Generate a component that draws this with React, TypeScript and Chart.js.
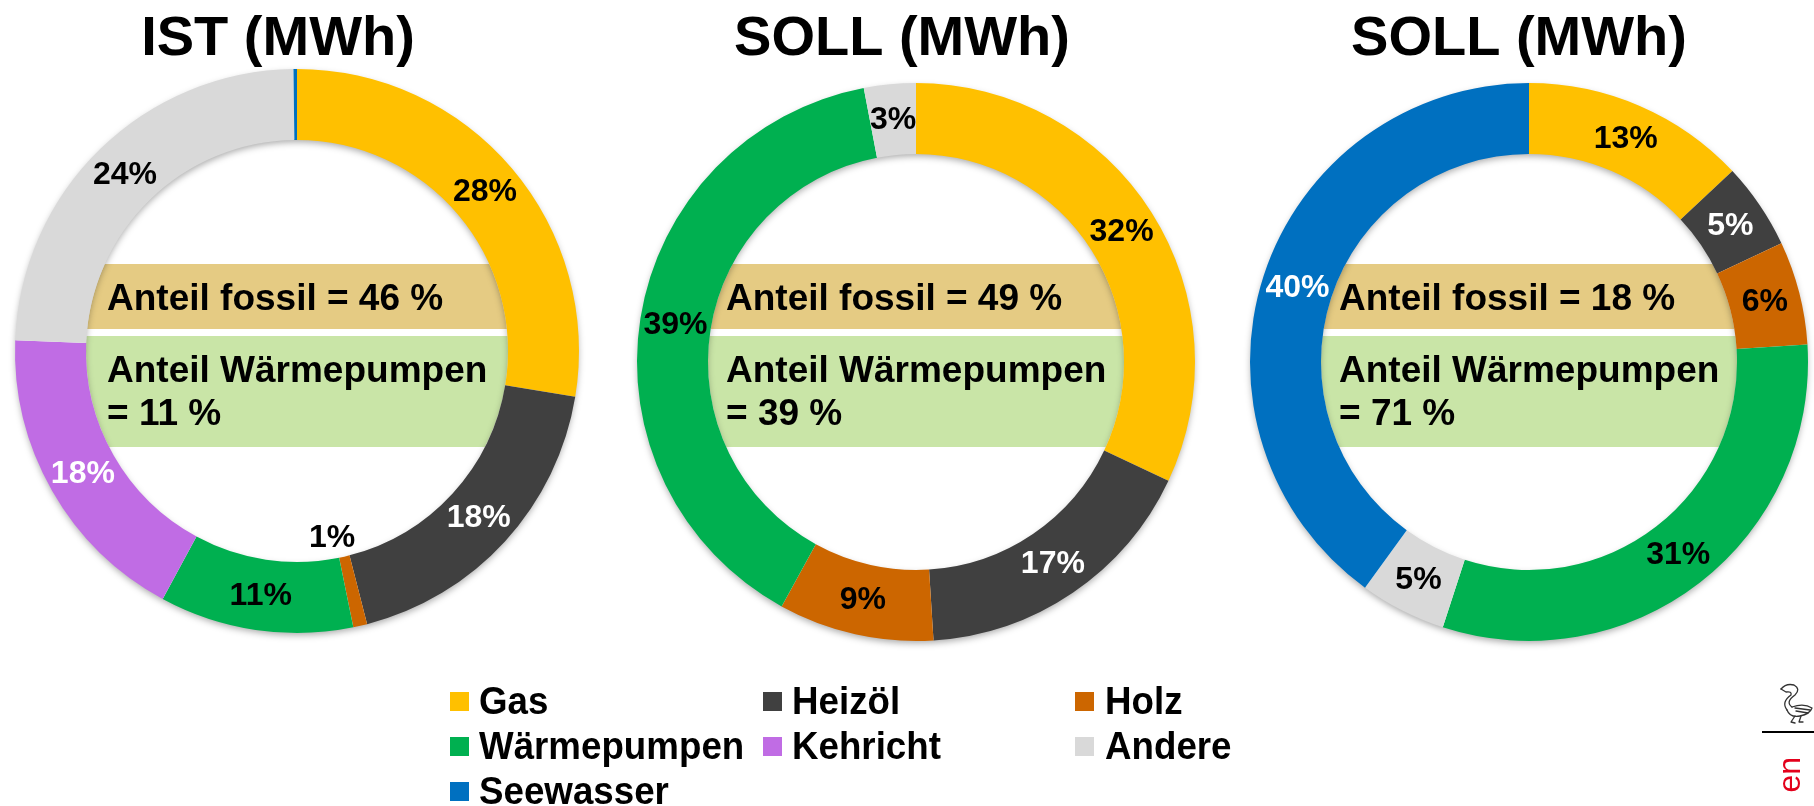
import React, { useEffect, useRef } from 'react';
import { Chart, registerables } from 'chart.js';

Chart.register(...registerables);

// ---------- data ----------
const categories = ['Gas', 'Heizöl', 'Holz', 'Wärmepumpen', 'Kehricht', 'Andere', 'Seewasser'];
const istValues = [27.6, 18.4, 0.8, 11.1, 17.7, 24.2, 0.2];
const istLabels = ['28%', '18%', '1%', '11%', '18%', '24%', ''];
const soll1Values = [32, 17, 9, 39, 0, 3, 0];
const soll1Labels = ['32%', '17%', '9%', '39%', '', '3%', ''];
const soll2Values = [13, 5, 6, 31, 0, 5, 40];
const soll2Labels = ['13%', '5%', '6%', '31%', '', '5%', '40%'];
const titles = ['IST (MWh)', 'SOLL (MWh)', 'SOLL (MWh)'];
const fossilShares = [46, 49, 18];
const heatPumpShares = [11, 39, 71];

// ---------- styles / layout ----------
const W = 1814;
const H = 806;
const FONT = '"Liberation Sans", Arial, Helvetica, sans-serif';
const colors = ['#FFC000', '#404040', '#CC6600', '#00B050', '#C06CE4', '#D9D9D9', '#0070C0'];
const labelColors = ['#000', '#fff', '#000', '#000', '#fff', '#000', '#fff'];
const centers = [
  { x: 297, y: 351, r: 282, cut: 211 },
  { x: 916, y: 362, r: 279, cut: 208 },
  { x: 1529, y: 362, r: 279, cut: 208 },
];
const titleX = [278, 902, 1519];
// labels moved off the ring (chart index -> slice index -> pixel position relative to centre)
const labelMoved: Record<number, Record<number, { dx: number; dy: number }>> = { 0: { 2: { dx: 35, dy: 186 } } };

const valuesList = [istValues, soll1Values, soll2Values];
const labelsList = [istLabels, soll1Labels, soll2Labels];

function drawSwan(ctx: CanvasRenderingContext2D) {
  ctx.save();
  ctx.strokeStyle = '#333';
  ctx.lineWidth = 1.3;
  ctx.lineCap = 'round';
  ctx.lineJoin = 'round';
  ctx.beginPath();
  ctx.moveTo(1781, 689);
  ctx.quadraticCurveTo(1786, 683, 1794, 685);
  ctx.quadraticCurveTo(1801, 689, 1795, 695);
  ctx.quadraticCurveTo(1785, 702, 1792, 707);
  ctx.stroke();
  ctx.beginPath();
  ctx.moveTo(1781, 689);
  ctx.lineTo(1786, 692);
  ctx.quadraticCurveTo(1792, 691, 1791, 695);
  ctx.quadraticCurveTo(1781, 702, 1787, 710);
  ctx.stroke();
  ctx.beginPath();
  ctx.moveTo(1787, 710);
  ctx.quadraticCurveTo(1790, 718, 1800, 716);
  ctx.quadraticCurveTo(1810, 714, 1812, 708);
  ctx.quadraticCurveTo(1804, 703, 1792, 707);
  ctx.stroke();
  ctx.beginPath();
  ctx.moveTo(1795, 708);
  ctx.lineTo(1810, 710);
  ctx.moveTo(1796, 711);
  ctx.lineTo(1808, 713);
  ctx.stroke();
  ctx.beginPath();
  ctx.moveTo(1795, 716);
  ctx.lineTo(1791, 722);
  ctx.lineTo(1795, 723);
  ctx.moveTo(1801, 716);
  ctx.lineTo(1799, 722);
  ctx.lineTo(1803, 722);
  ctx.stroke();
  ctx.restore();
}

function makeDecor(i: number) {
  return {
    id: 'decor' + i,
    beforeDatasetsDraw(chart: any) {
      const arc = chart.getDatasetMeta(0).data[0];
      const { x, y, innerRadius, outerRadius } = arc.getProps(['x', 'y', 'innerRadius', 'outerRadius'], true);
      const ctx = chart.ctx;
      ctx.save();
      ctx.beginPath();
      ctx.arc(x, y, innerRadius, 0, Math.PI * 2);
      ctx.clip();
      ctx.fillStyle = '#E5CB83';
      ctx.fillRect(x - innerRadius - 2, 264, innerRadius * 2 + 4, 65);
      ctx.fillStyle = '#C9E5A7';
      ctx.fillRect(x - innerRadius - 2, 336, innerRadius * 2 + 4, 111);
      ctx.restore();
      ctx.save();
      ctx.shadowColor = 'rgba(0,0,0,0.35)';
      ctx.shadowBlur = 7;
      ctx.shadowOffsetY = 3;
      ctx.beginPath();
      ctx.arc(x, y, outerRadius - 1, 0, Math.PI * 2);
      ctx.arc(x, y, innerRadius + 1, 0, Math.PI * 2, true);
      ctx.fillStyle = '#ffffff';
      ctx.fill();
      ctx.restore();
    },
    afterDatasetsDraw(chart: any) {
      const meta = chart.getDatasetMeta(0);
      const ctx = chart.ctx;
      const arc0 = meta.data[0];
      const cx = arc0.x;
      const cy = arc0.y;
      ctx.save();
      ctx.font = 'bold 32px ' + FONT;
      ctx.textAlign = 'center';
      ctx.textBaseline = 'middle';
      meta.data.forEach((arc: any, k: number) => {
        const txt = labelsList[i][k];
        if (!txt) return;
        let p = arc.getCenterPoint();
        const mv = labelMoved[i] && labelMoved[i][k];
        if (mv) p = { x: cx + mv.dx, y: cy + mv.dy };
        ctx.fillStyle = mv ? '#000' : labelColors[k];
        ctx.fillText(txt, p.x, p.y + 1);
      });
      ctx.textAlign = 'left';
      ctx.textBaseline = 'alphabetic';
      ctx.fillStyle = '#000';
      ctx.font = 'bold 37px ' + FONT;
      const tx = cx - 190;
      ctx.fillText('Anteil fossil = ' + fossilShares[i] + ' %', tx, 310);
      ctx.fillText('Anteil Wärmepumpen', tx, 382);
      ctx.fillText('= ' + heatPumpShares[i] + ' %', tx, 425);
      ctx.textAlign = 'center';
      ctx.font = 'bold 56px ' + FONT;
      ctx.fillText(titles[i], titleX[i], 55);
      ctx.restore();
    },
    afterDraw(chart: any) {
      if (i !== 0) return;
      const ctx = chart.ctx;
      ctx.save();
      const sqX = [450, 763, 1075];
      const txX = [479, 792, 1105];
      const rowY = [714, 759, 804];
      ctx.font = 'bold 36px ' + FONT;
      ctx.textAlign = 'left';
      ctx.textBaseline = 'alphabetic';
      categories.forEach((c, k) => {
        const col = k % 3;
        const row = Math.floor(k / 3);
        ctx.fillStyle = colors[k];
        ctx.fillRect(sqX[col], rowY[row] - 22, 19, 19);
        ctx.save();
        ctx.translate(txX[col], rowY[row]);
        ctx.scale(1.02, 1.1);
        ctx.fillStyle = '#000';
        ctx.fillText(c, 0, 0);
        ctx.restore();
      });
      drawSwan(ctx);
      ctx.fillStyle = '#000';
      ctx.fillRect(1762, 731, 52, 2);
      ctx.translate(1800, 757);
      ctx.rotate(-Math.PI / 2);
      ctx.fillStyle = '#E3001B';
      ctx.font = '32px ' + FONT;
      ctx.textAlign = 'right';
      ctx.fillText('en', 0, 0);
      ctx.restore();
    },
  };
}

function makeConfig(i: number): any {
  const c = centers[i];
  return {
    type: 'doughnut',
    data: {
      labels: categories,
      datasets: [
        {
          data: valuesList[i],
          backgroundColor: colors,
          borderWidth: 0,
        },
      ],
    },
    options: {
      responsive: false,
      animation: false,
      radius: c.r,
      cutout: c.cut,
      layout: {
        padding: {
          left: c.x - c.r,
          right: W - c.x - c.r,
          top: c.y - c.r,
          bottom: H - c.y - c.r,
        },
      },
      plugins: {
        legend: { display: false },
        tooltip: { enabled: false },
        title: { display: false },
      },
    },
    plugins: [makeDecor(i)],
  };
}

export default function App() {
  const r0 = useRef<HTMLCanvasElement>(null);
  const r1 = useRef<HTMLCanvasElement>(null);
  const r2 = useRef<HTMLCanvasElement>(null);
  useEffect(() => {
    const refs = [r0, r1, r2];
    const charts = refs.map((r, i) => new Chart(r.current as HTMLCanvasElement, makeConfig(i)));
    return () => charts.forEach((ch) => ch.destroy());
  }, []);
  const cs: React.CSSProperties = { position: 'absolute', left: 0, top: 0 };
  return (
    <div style={{ position: 'absolute', left: 0, top: 0, width: W, height: H, overflow: 'hidden', background: '#fff' }}>
      <canvas ref={r0} width={W} height={H} style={cs} />
      <canvas ref={r1} width={W} height={H} style={cs} />
      <canvas ref={r2} width={W} height={H} style={cs} />
    </div>
  );
}
